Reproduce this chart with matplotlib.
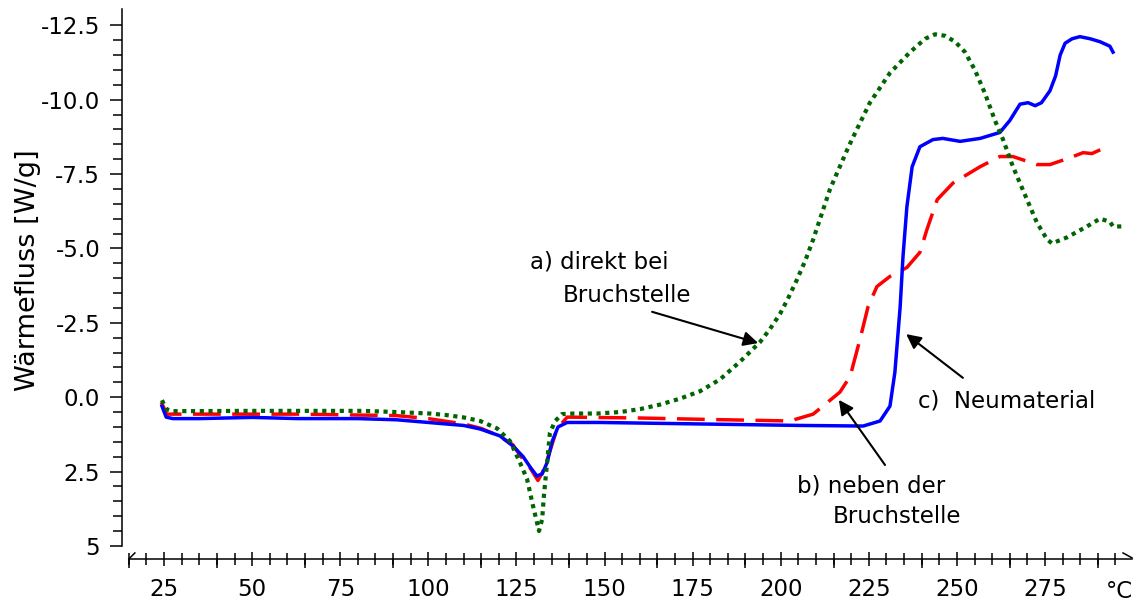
import matplotlib
matplotlib.use("Agg")
import matplotlib.pyplot as plt
from matplotlib.ticker import FixedLocator, MultipleLocator

# a) direkt bei Bruchstelle (gruen, gepunktet)
temp_a = [24.4, 25.6, 27.5, 50, 63, 81.5, 91, 100.5, 105, 110, 114.7, 119.5, 123.2,
          126, 128, 129.7, 130.8, 131.4, 132.3, 132.8, 133.7, 134.5, 136, 137.9, 141.1,
          147.9, 154.4, 160.1, 165.7, 171.4, 177.1, 182.8, 188.5, 194.1, 197, 199.8,
          202, 204.6, 207, 209.2, 214, 218.8, 220.2, 225.3, 231, 236.7, 241, 243.8,
          246.6, 249.5, 252.3, 255.1, 258, 260.8, 263.1, 265.9, 269.9, 272.7, 275.6,
          277, 281.2, 286.9, 290.6, 293.4, 294.3, 297.1]
wf_a = [0.1, 0.4, 0.47, 0.46, 0.46, 0.46, 0.5, 0.55, 0.6, 0.68, 0.8, 1.05, 1.48,
        2.2, 2.75, 3.65, 4.2, 4.5, 4.1, 3.3, 2.2, 1.2, 0.8, 0.57, 0.55,
        0.55, 0.5, 0.4, 0.25, 0.05, -0.2, -0.6, -1.2, -1.85, -2.3, -2.8,
        -3.3, -3.95, -4.6, -5.3, -7.0, -8.3, -8.66, -9.9, -10.9, -11.6, -12.05, -12.2,
        -12.15, -11.95, -11.6, -11.0, -10.2, -9.3, -8.66, -7.75, -6.64, -5.87, -5.3,
        -5.17, -5.37, -5.74, -6.0, -5.9, -5.74, -5.74]

# b) neben der Bruchstelle (rot, gestrichelt)
temp_b = [24.2, 25.8, 29.5, 50, 63, 80, 91, 100, 110, 115, 120, 124, 126, 129,
          131.1, 132.5, 134, 136.5, 139.4, 160, 180, 202.6, 209.2, 216.8, 219.7,
          222.5, 224.8, 227.3, 231, 235.8, 239.5, 241.5, 244.4, 248.9, 256.6, 262.2,
          265.9, 272.7, 276.4, 282.1, 285.8, 288.3, 292.6]
wf_b = [0.17, 0.57, 0.57, 0.57, 0.57, 0.6, 0.62, 0.72, 0.9, 1.05, 1.3, 1.6, 1.95, 2.4,
        2.8, 2.5, 2.0, 1.07, 0.67, 0.7, 0.75, 0.8, 0.57, -0.17, -0.7,
        -1.95, -3.05, -3.72, -4.06, -4.36, -4.87, -5.64, -6.64, -7.2, -7.75, -8.09,
        -8.09, -7.82, -7.82, -8.05, -8.22, -8.19, -8.42]

# c) Neumaterial (blau, durchgezogen)
temp_c = [24.4, 25.6, 27.5, 35, 50, 63, 80, 91, 100, 110, 114.7, 120.3, 124, 126.9,
          128.9, 130.8, 132.3, 133.7, 135.1, 136.8, 139.4, 148.7, 177, 205.5, 223.4,
          228.2, 231, 232.4, 233.9, 234.7, 235.8, 237.3, 239.5, 243.2, 246, 250.9,
          256.6, 262.2, 265, 267.9, 270.2, 272.2, 274, 276.4, 278, 279.3, 280.7, 282.7,
          284.9, 287.8, 290.6, 293.4, 294.3]
wf_c = [0.3, 0.67, 0.72, 0.72, 0.68, 0.72, 0.72, 0.76, 0.85, 0.95, 1.07, 1.3, 1.64, 2.0,
        2.35, 2.65, 2.58, 2.2, 1.5, 1.0, 0.85, 0.85, 0.9, 0.95, 0.97,
        0.8, 0.3, -0.84, -3.05, -4.73, -6.4, -7.75, -8.42, -8.66, -8.7, -8.6,
        -8.7, -8.9, -9.3, -9.85, -9.9, -9.8, -9.9, -10.3, -10.8, -11.5, -11.9, -12.05,
        -12.12, -12.05, -11.95, -11.8, -11.6]

y_ticks = [-12.5, -10.0, -7.5, -5.0, -2.5, 0.0, 2.5, 5.0]
y_labels = ['-12.5', '-10.0', '-7.5', '-5.0', '-2.5', '0.0', '2.5', '5']
x_ticks = [25, 50, 75, 100, 125, 150, 175, 200, 225, 250, 275]
x_long = [15, 40, 65, 90, 115, 140, 165, 190, 215, 240, 265, 290]

plt.rcParams['font.family'] = 'DejaVu Sans'
plt.rcParams['font.size'] = 16.5

fig = plt.figure(figsize=(11.35, 6.04), dpi=100)
ax = fig.add_axes([0.1135, 0.0745, 0.8839, 0.9106])

ax.plot(temp_b, wf_b, color='#ff0000', lw=2.5, dashes=(8, 3.3), zorder=2)
ax.plot(temp_c, wf_c, color='#0000ff', lw=2.5, zorder=3)
ax.plot(temp_a, wf_a, color='#006400', lw=3.0, dashes=(1, 1.1), zorder=4)

ax.set_xlim(15, 299.7)
ax.set_ylim(5.44, -13.05)

ax.spines['top'].set_visible(False)
ax.spines['right'].set_visible(False)
ax.spines['left'].set_position(('outward', 5))
ax.spines['left'].set_bounds(-13.05, 5)
for s in ('left', 'bottom'):
    ax.spines[s].set_linewidth(1.1)

ax.set_yticks(y_ticks, y_labels)
ax.yaxis.set_minor_locator(FixedLocator([v / 2 for v in range(-25, 11)]))
ax.tick_params(axis='y', which='major', direction='out', length=8.6, width=1.1, pad=7)
ax.tick_params(axis='y', which='minor', direction='out', length=6.5, width=1.1)

ax.set_xticks(x_ticks)
ax.xaxis.set_minor_locator(MultipleLocator(5))
ax.tick_params(axis='x', which='major', direction='inout', length=9.5, width=1.1, pad=9)
ax.tick_params(axis='x', which='minor', direction='inout', length=8, width=1.1)

sec = ax.secondary_xaxis('bottom')
sec.set_xticks(x_long, [''] * len(x_long))
sec.tick_params(direction='out', length=6.5, width=1.1)
sec.spines['bottom'].set_visible(False)

ax.annotate('°C', xy=(296, 0), xycoords=('data', 'axes fraction'), xytext=(0, -15),
            textcoords='offset points', ha='center', va='top')

# Achsenbruch-Markierungen
ax.plot([0, 0.006], [0, 0.011], transform=ax.transAxes, color='black', lw=1.1, clip_on=False)
ax.plot([0.991, 1.0], [0.011, 0.002], transform=ax.transAxes, color='black', lw=1.1, clip_on=False)

ax.set_ylabel('Wärmefluss [W/g]', fontsize=19.5)
ax.yaxis.set_label_coords(-0.088, 0.525)

arrow = dict(arrowstyle='-|>', color='black', lw=1.5, mutation_scale=22, shrinkA=0, shrinkB=0)
ax.text(128.9, -4.32, 'a) direkt bei', va='baseline')
ax.text(138.2, -3.2, 'Bruchstelle', va='baseline')
ax.annotate('', xy=(193.6, -1.82), xytext=(163.5, -2.87), arrowprops=arrow)

ax.text(204.6, 3.22, 'b) neben der', va='baseline')
ax.text(214.8, 4.23, 'Bruchstelle', va='baseline')
ax.annotate('', xy=(216.5, 0.09), xytext=(229.6, 2.28), arrowprops=arrow)

ax.text(239, 0.36, 'c)  Neumaterial', va='baseline')
ax.annotate('', xy=(235.6, -2.12), xytext=(251.7, -0.65), arrowprops=arrow)

fig.savefig('out.png', dpi=100)
